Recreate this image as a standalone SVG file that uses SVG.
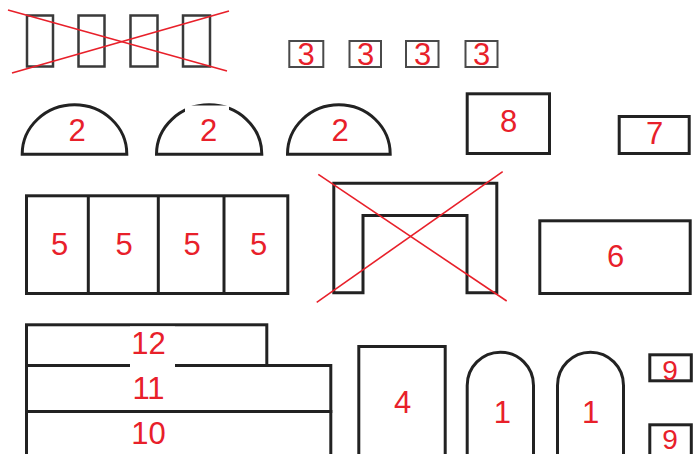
<svg xmlns="http://www.w3.org/2000/svg" width="694" height="454" viewBox="0 0 694 454">
<style>
.s{fill:#fff;stroke:#222;stroke-width:3}
.t{fill:none;stroke:#3a3a3a;stroke-width:2.5}
.g{fill:#fff;stroke:#4a4a4a;stroke-width:2}
.x{stroke:#e8202a;stroke-width:1.6;fill:none}
.l{font-family:"Liberation Sans",Arial,sans-serif;font-size:31px;fill:#e8202a;text-anchor:middle}
.w{fill:#fff}
</style>
<rect width="694" height="454" fill="#fff"/>
<g id="crossed-blocks">
<rect class="t" x="27" y="15.5" width="26" height="51"/>
<rect class="t" x="78.5" y="15.5" width="26" height="51"/>
<rect class="t" x="130.5" y="15.5" width="27" height="51"/>
<rect class="t" x="183" y="15.5" width="27" height="51"/>
<line class="x" x1="8" y1="10" x2="227" y2="71"/>
<line class="x" x1="12" y1="73" x2="229" y2="11"/>
</g>
<g id="n3a"><rect class="g" x="289.3" y="41" width="34" height="26"/><text class="l" x="306" y="65">3</text></g>
<g id="n3b"><rect class="g" x="349.5" y="41" width="31.5" height="26"/><text class="l" x="365.5" y="65">3</text></g>
<g id="n3c"><rect class="g" x="406" y="41" width="32.5" height="26"/><text class="l" x="422.5" y="65">3</text></g>
<g id="n3d"><rect class="g" x="465.5" y="41" width="32" height="26"/><text class="l" x="481.5" y="65">3</text></g>
<g id="n2a"><path class="s" d="M22.2 154.2 A52.3 49.4 0 0 1 126.8 154.2 Z"/><text class="l" x="77" y="141">2</text></g>
<g id="n2b"><path class="s" d="M156.5 154.2 A52.65 49.4 0 0 1 261.8 154.2 Z"/><rect class="w" x="185" y="105.5" width="44" height="38"/><text class="l" x="208.5" y="141">2</text></g>
<g id="n2c"><path class="s" d="M287.5 154.2 A51.35 49.4 0 0 1 390.2 154.2 Z"/><text class="l" x="340" y="141">2</text></g>
<g id="n8"><rect class="s" x="467.2" y="93.8" width="82.3" height="59.7"/><text class="l" x="508.5" y="132">8</text></g>
<g id="n7"><rect class="s" x="619.2" y="116.5" width="70" height="37"/><text class="l" x="654.5" y="144">7</text></g>
<g id="n5">
<rect class="s" x="26.5" y="195.8" width="261.3" height="97.7"/>
<line class="s" x1="88.3" y1="195.8" x2="88.3" y2="293.5"/>
<line class="s" x1="158.3" y1="195.8" x2="158.3" y2="293.5"/>
<line class="s" x1="224" y1="195.8" x2="224" y2="293.5"/>
<text class="l" x="59.5" y="255">5</text>
<text class="l" x="124" y="255">5</text>
<text class="l" x="192" y="255">5</text>
<text class="l" x="258.5" y="255">5</text>
</g>
<g id="crossed-gate">
<path class="s" d="M333.8 292.8 V183.2 H496.8 V292.8 H467 V215.5 H363 V292.8 Z"/>
<line class="x" x1="318.3" y1="174.3" x2="506.7" y2="301"/>
<line class="x" x1="316.7" y1="302.3" x2="502.7" y2="171.7"/>
</g>
<g id="n6"><rect class="s" x="539.8" y="220.8" width="150.4" height="72.7"/><text class="l" x="615.7" y="266.5">6</text></g>
<g id="n10"><rect class="s" x="26.5" y="411.5" width="304.3" height="60"/><text class="l" x="148.5" y="443.5">10</text></g>
<g id="n11"><rect class="s" x="26.5" y="365.5" width="304.3" height="46"/><text class="l" x="148.5" y="398.5">11</text></g>
<g id="n12"><rect class="s" x="26.5" y="324.8" width="240.3" height="40.7"/><rect class="w" x="130" y="326.5" width="45" height="41.5"/><text class="l" x="148.5" y="353.5">12</text></g>
<g id="n4"><rect class="s" x="358.8" y="346.5" width="86.4" height="120"/><text class="l" x="402.5" y="412.5">4</text></g>
<g id="n1a"><path class="s" d="M467.2 470 V385.4 A33.15 33.2 0 0 1 533.5 385.4 V470"/><text class="l" x="502.3" y="423">1</text></g>
<g id="n1b"><path class="s" d="M557.5 470 V385.4 A33 33.2 0 0 1 623.5 385.4 V470"/><text class="l" x="590.5" y="423">1</text></g>
<g id="n9a"><rect class="s" x="649.8" y="354.8" width="41.5" height="26"/><text class="l" style="font-size:28px" x="670" y="380">9</text></g>
<g id="n9b"><rect class="s" x="649.8" y="424.8" width="41.5" height="40"/><text class="l" style="font-size:28px" x="670" y="448.5">9</text></g>
</svg>
